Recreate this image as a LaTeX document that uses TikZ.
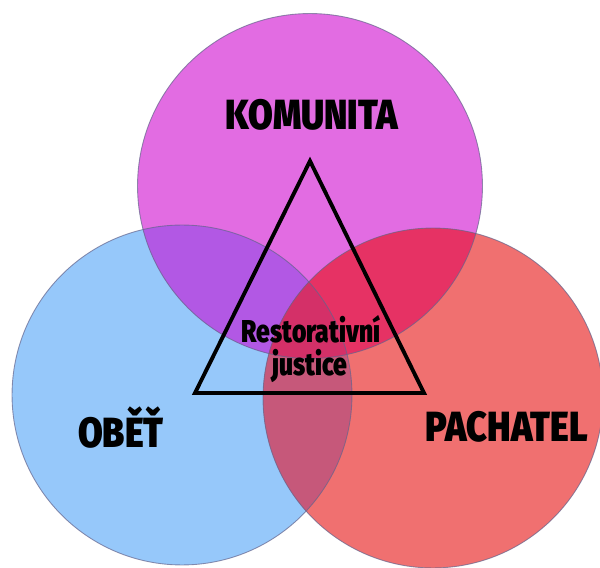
\documentclass[tikz,border=0pt]{standalone}
\usepackage{fontspec}
\newfontfamily\impactfont{Fira Sans}[UprightFont={* Black}, FakeStretch=0.85]
\newfontfamily\impactnarrow{Fira Sans}[UprightFont={* Black}, FakeStretch=0.78]
\definecolor{blueC}{RGB}{150,200,250}
\definecolor{magC}{RGB}{226,108,226}
\definecolor{redC}{RGB}{240,112,112}
\definecolor{bmC}{RGB}{178,88,228}
\definecolor{mrC}{RGB}{230,50,100}
\definecolor{brC}{RGB}{198,88,122}
\definecolor{allC}{RGB}{212,48,104}
\definecolor{edgeC}{RGB}{100,100,140}
\tikzset{
  edge/.style={draw=edgeC, draw opacity=0.7, line width=0.5pt},
  bigtext/.style={font=\impactfont\fontsize{24}{27}\selectfont, text=black, inner sep=0pt, anchor=base},
  midtext/.style={font=\impactnarrow\fontsize{18}{20}\selectfont, text=black, inner sep=0pt, anchor=base},
  tri/.style={draw=black, line width=2.2pt, line join=miter}
}
\begin{document}
\begin{tikzpicture}[x=0.02cm, y=-0.02cm]
\useasboundingbox (0,0) rectangle (600,568);
\clip (0,0) rectangle (600,568);
\coordinate (cB) at (182,395);
\coordinate (cM) at (310,186);
\coordinate (cR) at (433,398);
\def\rB{3.4cm}
\def\rM{3.45cm}
\def\rR{3.4cm}
% base circles
\fill[blueC] (cB) circle[radius=\rB];
\fill[magC] (cM) circle[radius=\rM];
\fill[redC] (cR) circle[radius=\rR];
% pair overlaps
\begin{scope}
  \clip (cB) circle[radius=\rB];
  \fill[bmC] (cM) circle[radius=\rM];
  \fill[brC] (cR) circle[radius=\rR];
\end{scope}
\begin{scope}
  \clip (cM) circle[radius=\rM];
  \fill[mrC] (cR) circle[radius=\rR];
  \clip (cB) circle[radius=\rB];
  \fill[allC] (cR) circle[radius=\rR];
\end{scope}
% outlines
\draw[edge] (cB) circle[radius=\rB];
\draw[edge] (cM) circle[radius=\rM];
\draw[edge] (cR) circle[radius=\rR];
% triangle
\coordinate (tA) at (310,161);
\coordinate (tB) at (195,393);
\coordinate (tC) at (424,393);
\draw[tri] (tA) -- (tB) -- (tC) -- cycle;
% labels
\node[bigtext] (kom) at (312,129.5) {KOMUNITA};
\node[bigtext] (obet) at (121,448) {OBĚŤ};
\node[bigtext] (pach) at (507,442) {PACHATEL};
\node[midtext] (rest) at (311,342.5) {Restorativní};
\node[midtext] (just) at (310,376) {justice};
\end{tikzpicture}
\end{document}
